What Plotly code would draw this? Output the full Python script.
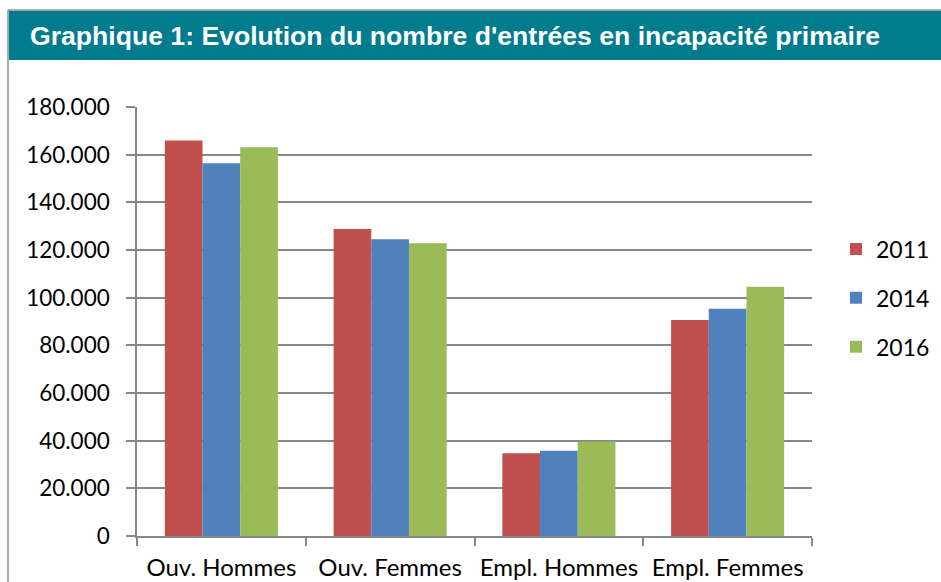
import plotly.graph_objects as go

categories = ["Ouv. Hommes", "Ouv. Femmes", "Empl. Hommes", "Empl. Femmes"]
years = ["2011", "2014", "2016"]
values_2011 = [165900, 128800, 34700, 90600]
values_2014 = [156400, 124500, 35800, 95400]
values_2016 = [163100, 122800, 39600, 104600]
series = [values_2011, values_2014, values_2016]
colors = ["#C0504D", "#4F81BD", "#9BBB59"]

title_text = "Graphique 1: Evolution du nombre d'entrées en incapacité primaire"
y_ticks = [0, 20000, 40000, 60000, 80000, 100000, 120000, 140000, 160000, 180000]

W, H = 941, 582
L, R, T, B = 137, 812, 107, 536
pw, ph = R - L, B - T

def px(x):
    return (x - L) / pw

def py(y):
    return (B - y) / ph

fig = go.Figure()
for yr, vals, col in zip(years, series, colors):
    fig.add_trace(go.Bar(
        x=categories, y=vals, name=yr, legendgroup=yr,
        marker=dict(color=col, line=dict(width=0)),
    ))

grid = "#878787"
font_main = "Lato, 'Open Sans', sans-serif"

fig.update_layout(
    width=W, height=H,
    margin=dict(l=L, r=W - R, t=T, b=H - B, pad=0, autoexpand=False),
    paper_bgcolor="white", plot_bgcolor="white",
    separators=",.",
    barmode="group", bargap=0.33, bargroupgap=0,
    font=dict(family=font_main, size=22, color="black"),
    showlegend=True,
    legend=dict(
        x=px(836), y=py(298), xanchor="left", yanchor="middle",
        font=dict(size=23, family=font_main), tracegroupgap=16,
        traceorder="grouped", bgcolor="rgba(0,0,0,0)",
    ),
    xaxis=dict(
        type="category", tickson="boundaries", ticks="outside", ticklen=8,
        tickcolor=grid, tickwidth=1.5, showline=True, linecolor=grid, linewidth=1.5,
        showgrid=False, tickfont=dict(size=24, family=font_main),
        ticklabelstandoff=9, tickangle=0, automargin=False,
    ),
    yaxis=dict(
        range=[0, 180000], tickvals=y_ticks, tickformat=",d",
        ticks="outside", ticklen=9, tickcolor=grid, tickwidth=1.5,
        showline=True, linecolor=grid, linewidth=1.5,
        showgrid=True, gridcolor=grid, gridwidth=1.5, zeroline=False,
        tickfont=dict(size=22.5, family=font_main), ticklabelstandoff=12,
        automargin=False,
    ),
    shapes=[
        dict(type="rect", xref="paper", yref="paper",
             x0=px(9), x1=px(941), y0=py(60), y1=py(11),
             fillcolor="#017B8E", line=dict(width=0), layer="below"),
        dict(type="line", xref="paper", yref="paper",
             x0=px(8), x1=px(941), y0=py(10), y1=py(10),
             line=dict(color="#8C8C8C", width=1.5)),
        dict(type="line", xref="paper", yref="paper",
             x0=px(8), x1=px(8), y0=py(10), y1=py(582),
             line=dict(color="#8C8C8C", width=1.5)),
    ],
    annotations=[
        dict(text="<b>" + title_text + "</b>", xref="paper", yref="paper",
             x=px(28), y=py(36), xanchor="left", yanchor="middle",
             showarrow=False,
             font=dict(family="Liberation Sans, Arial, sans-serif", size=26.6, color="white")),
    ],
)

fig.write_html("out.html", config={"displayModeBar": False},
               post_script="document.body.style.margin='0';")
